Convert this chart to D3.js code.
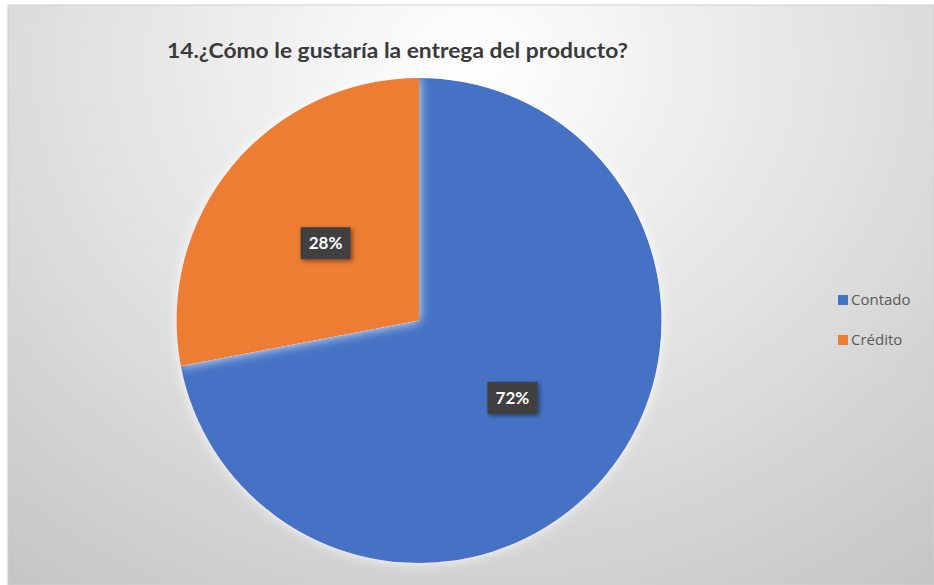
<!DOCTYPE html>
<html><head><meta charset="utf-8">
<script src="https://cdn.jsdelivr.net/npm/d3@7"></script>
<style>html,body{margin:0;padding:0;background:#fff;overflow:hidden}</style>
</head><body><svg id="c" width="934" height="585"></svg>
<script>
const categories = ["Contado", "Crédito"];
const values = [72, 28];
const labels = ["72%", "28%"];
const colors = ["#4472C4", "#ED7D31"];
const title = "14.¿Cómo le gustaría la entrega del producto?";

const svg = d3.select("#c");
const defs = svg.append("defs");
const g1 = defs.append("radialGradient").attr("id","bg").attr("cx","0.5").attr("cy","0.1").attr("r","0.85")
  .attr("gradientTransform","translate(0.5 0.1) scale(1 1.4) translate(-0.5 -0.1)");
g1.append("stop").attr("offset","0").attr("stop-color","#ffffff");
g1.append("stop").attr("offset","0.45").attr("stop-color","#e4e4e4");
g1.append("stop").attr("offset","1").attr("stop-color","#c2c2c2");
const f = defs.append("filter").attr("id","glow").attr("x","-20%").attr("y","-20%").attr("width","140%").attr("height","140%");
f.append("feGaussianBlur").attr("in","SourceAlpha").attr("stdDeviation","6").attr("result","b");
f.append("feFlood").attr("flood-color","#ffffff").attr("flood-opacity","0.9");
f.append("feComposite").attr("in2","b").attr("operator","in").attr("result","gl");
const fm = f.append("feMerge"); fm.append("feMergeNode").attr("in","gl"); fm.append("feMergeNode").attr("in","SourceGraphic");
const sh = defs.append("filter").attr("id","sh").attr("x","-30%").attr("y","-30%").attr("width","160%").attr("height","160%");
sh.append("feDropShadow").attr("dx","2").attr("dy","2").attr("stdDeviation","2").attr("flood-color","#000").attr("flood-opacity","0.45");

svg.append("rect").attr("x",8).attr("y",5).attr("width",926).attr("height",580).attr("fill","url(#bg)").attr("stroke","#d0d0d0");

svg.append("text").attr("x",167).attr("y",58).attr("font-family","Lato, 'Open Sans', sans-serif").attr("font-weight","bold")
  .attr("font-size",20).attr("fill","#3a3a3a").attr("textLength",461).attr("lengthAdjust","spacingAndGlyphs").text(title);

const cx = 419, cy = 320.5, r = 242.5;
const pie = d3.pie().sort(null).value(d => d)(values);
const arc = d3.arc().innerRadius(0).outerRadius(r);
const pg = svg.append("g").attr("transform",`translate(${cx},${cy})`);
pg.selectAll("path").data(pie).join("path").attr("d",arc).attr("fill",(d,i)=>colors[i]).attr("filter","url(#glow)");

const lab = d3.arc().innerRadius(r*0.5).outerRadius(r*0.5);
const lg = pg.selectAll("g.l").data(pie).join("g").attr("class","l").attr("transform",d=>{const c=lab.centroid(d);return `translate(${c[0]},${c[1]})`;});
lg.append("rect").attr("x",-25).attr("y",-16).attr("width",50).attr("height",32).attr("fill","#404040").attr("filter","url(#sh)");
lg.append("text").attr("text-anchor","middle").attr("dy","0.36em").attr("font-family","Lato, 'Open Sans', sans-serif")
  .attr("font-weight","bold").attr("font-size",17).attr("fill","#fff").text((d,i)=>labels[i]);

const leg = svg.append("g").selectAll("g").data(categories).join("g").attr("transform",(d,i)=>`translate(838,${300+i*40})`);
leg.append("rect").attr("x",0).attr("y",-5).attr("width",10).attr("height",10).attr("fill",(d,i)=>colors[i]);
leg.append("text").attr("x",13).attr("y",0).attr("dy","0.35em").attr("font-family","'Open Sans', sans-serif").attr("font-size",15).attr("fill","#595959").text(d=>d);
</script></body></html>
